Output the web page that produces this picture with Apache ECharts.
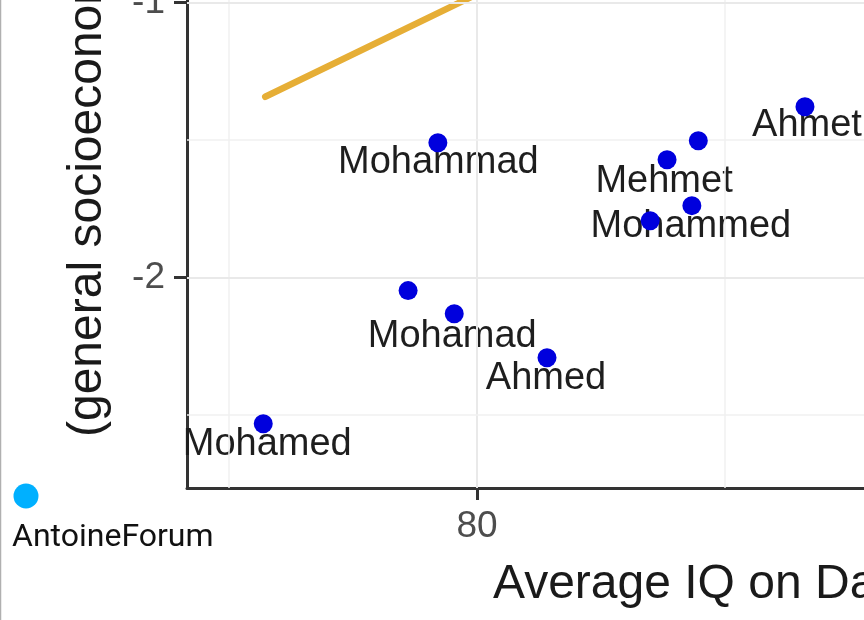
<!DOCTYPE html>
<html>
<head>
<meta charset="utf-8">
<script src="https://cdn.jsdelivr.net/npm/echarts@6/dist/echarts.min.js"></script>
<style>
html, body { margin: 0; padding: 0; background: #fff; }
#main { width: 864px; height: 620px; }
</style>
</head>
<body>
<div id="main"></div>
<script>
// points
var iqValues = [75.69, 78.61, 79.54, 81.41, 79.21, 83.83, 84.46, 84.33, 83.49, 86.61];
var sesValues = [-2.531, -2.047, -2.131, -2.291, -1.509, -1.571, -1.502, -1.738, -1.793, -1.378];

// name labels (repelled text positions)
var labelNames = ['Mohamed', 'Mohammad', 'Mohamad', 'Ahmed', 'Mehmet', 'Mohammed', 'Ahmet'];
var labelIQ = [75.77, 79.22, 79.50, 81.39, 83.77, 84.31, 86.65];
var labelSES = [-2.607, -1.582, -2.215, -2.367, -1.651, -1.815, -1.447];

// fitted line, two ends
var fitIQ = [75.73, 80.5];
var fitSES = [-1.342, -0.925];

var xTicks = [80];
var xMinor = [75, 85];
var yTicks = [-2, -1];
var yMinor = [-2.5, -1.5];

var FONT = '"Liberation Sans", Arial, Helvetica, sans-serif';

function pairs(xs, ys) {
	var out = [];
	for (var i = 0; i < xs.length; i++) {
		out.push([xs[i], ys[i]]);
	}
	return out;
}

function gridLines() {
	var out = [];
	var major = { color: '#e9e9e9', width: 2, type: 'solid' };
	var minor = { color: '#f0f0f0', width: 1.5, type: 'solid' };
	xTicks.forEach(function(v) { out.push({ xAxis: v, lineStyle: major }); });
	xMinor.forEach(function(v) { out.push({ xAxis: v, lineStyle: minor }); });
	yTicks.forEach(function(v) { out.push({ yAxis: v, lineStyle: major }); });
	yMinor.forEach(function(v) { out.push({ yAxis: v, lineStyle: minor }); });
	return out;
}

function labelData() {
	var out = [];
	for (var i = 0; i < labelNames.length; i++) {
		out.push({ name: labelNames[i], value: [labelIQ[i], labelSES[i]] });
	}
	return out;
}

var chart = echarts.init(document.getElementById('main'));
chart.setOption({
	animation: false,
	backgroundColor: '#fff',
	grid: { left: 187, right: 0, top: 0, bottom: 132, outerBoundsMode: 'none', containLabel: false },
	xAxis: {
		type: 'value',
		min: 74.153,
		max: 87.8,
		axisLine: { show: true, lineStyle: { color: '#333', width: 3 } },
		axisTick: { show: true, customValues: xTicks, length: 12, lineStyle: { color: '#333', width: 3 } },
		axisLabel: { customValues: xTicks, margin: 20, fontSize: 37, color: '#4d4d4d', fontFamily: FONT },
		splitLine: { show: false }
	},
	yAxis: {
		type: 'value',
		min: -2.765,
		max: -0.99,
		axisLine: { show: true, lineStyle: { color: '#333', width: 3 } },
		axisTick: { show: true, customValues: yTicks, length: 13, lineStyle: { color: '#333', width: 3 } },
		axisLabel: { customValues: yTicks, margin: 22, fontSize: 37, color: '#4d4d4d', fontFamily: FONT },
		splitLine: { show: false }
	},
	series: [
		{
			type: 'line',
			data: [],
			z: 1,
			silent: true,
			markLine: {
				silent: true,
				symbol: 'none',
				label: { show: false },
				data: gridLines()
			}
		},
		{
			type: 'line',
			data: pairs(fitIQ, fitSES),
			z: 2,
			symbol: 'none',
			silent: true,
			clip: true,
			lineStyle: { color: '#e6ae36', width: 6.5, cap: 'round' }
		},
		{
			// text sits under the dots, like in the source
			type: 'scatter',
			data: labelData(),
			z: 3,
			symbolSize: 1,
			silent: true,
			itemStyle: { color: 'transparent', opacity: 1 },
			label: {
				show: true,
				position: 'inside',
				formatter: '{b}',
				fontSize: 38,
				color: '#1e1e1e',
				opacity: 1,
				textBorderWidth: 0,
				fontFamily: FONT
			}
		},
		{
			type: 'scatter',
			data: pairs(iqValues, sesValues),
			z: 4,
			zlevel: 1,
			symbolSize: 19,
			silent: true,
			itemStyle: { color: '#0000dd', opacity: 1 }
		}
	],
	graphic: [
		{
			type: 'line',
			shape: { x1: 0.5, y1: 0, x2: 0.5, y2: 620 },
			style: { stroke: '#b0b0b0', lineWidth: 1.5 }
		},
		{
			type: 'text',
			x: 88,
			y: 437,
			rotation: Math.PI / 2,
			style: {
				text: '(general socioeconomic status)',
				font: '48px ' + FONT,
				fill: '#1a1a1a',
				textAlign: 'left',
				textVerticalAlign: 'middle'
			}
		},
		{
			type: 'text',
			x: 493,
			y: 585,
			style: {
				text: 'Average IQ on Data',
				font: '48px ' + FONT,
				fill: '#1a1a1a',
				textAlign: 'left',
				textVerticalAlign: 'middle'
			}
		},
		{
			type: 'circle',
			shape: { cx: 26, cy: 496, r: 12.5 },
			style: { fill: '#00b0ff' }
		},
		{
			type: 'text',
			x: 12,
			y: 538,
			style: {
				text: 'AntoineForum',
				font: '32px Roboto, "Noto Sans", sans-serif',
				fill: '#111',
				textAlign: 'left',
				textVerticalAlign: 'middle'
			}
		}
	]
});
</script>
</body>
</html>
